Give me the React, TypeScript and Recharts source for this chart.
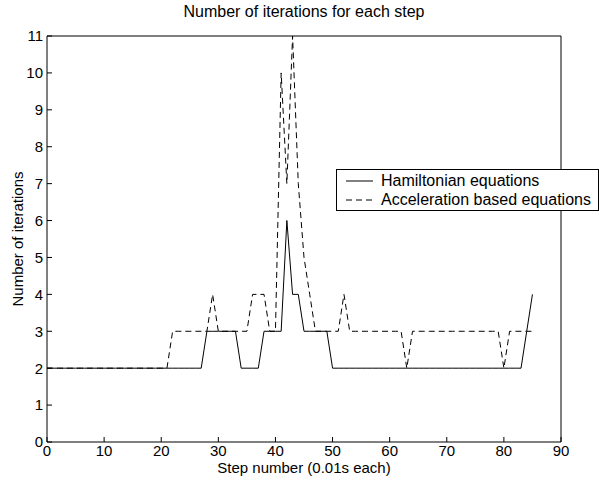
import React from 'react';
import { LineChart, Line, XAxis, YAxis, Legend, Label } from 'recharts';

const steps = [
  0, 1, 2, 3, 4, 5, 6, 7, 8, 9,
  10, 11, 12, 13, 14, 15, 16, 17, 18, 19,
  20, 21, 22, 23, 24, 25, 26, 27, 28, 29,
  30, 31, 32, 33, 34, 35, 36, 37, 38, 39,
  40, 41, 42, 43, 44, 45, 46, 47, 48, 49,
  50, 51, 52, 53, 54, 55, 56, 57, 58, 59,
  60, 61, 62, 63, 64, 65, 66, 67, 68, 69,
  70, 71, 72, 73, 74, 75, 76, 77, 78, 79,
  80, 81, 82, 83, 84, 85,
];

const hamiltonian = [
  2, 2, 2, 2, 2, 2, 2, 2, 2, 2,
  2, 2, 2, 2, 2, 2, 2, 2, 2, 2,
  2, 2, 2, 2, 2, 2, 2, 2, 3, 3,
  3, 3, 3, 3, 2, 2, 2, 2, 3, 3,
  3, 3, 6, 4, 4, 3, 3, 3, 3, 3,
  2, 2, 2, 2, 2, 2, 2, 2, 2, 2,
  2, 2, 2, 2, 2, 2, 2, 2, 2, 2,
  2, 2, 2, 2, 2, 2, 2, 2, 2, 2,
  2, 2, 2, 2, 3, 4,
];

const acceleration = [
  2, 2, 2, 2, 2, 2, 2, 2, 2, 2,
  2, 2, 2, 2, 2, 2, 2, 2, 2, 2,
  2, 2, 3, 3, 3, 3, 3, 3, 3, 4,
  3, 3, 3, 3, 3, 3, 4, 4, 4, 3,
  3, 10, 7, 11, 7, 5, 4, 3, 3, 3,
  3, 3, 4, 3, 3, 3, 3, 3, 3, 3,
  3, 3, 3, 2, 3, 3, 3, 3, 3, 3,
  3, 3, 3, 3, 3, 3, 3, 3, 3, 3,
  2, 3, 3, 3, 3, 3,
];

const xTicks = [0, 10, 20, 30, 40, 50, 60, 70, 80, 90];
const yTicks = [0, 1, 2, 3, 4, 5, 6, 7, 8, 9, 10, 11];

const seriesNames = ['Hamiltonian equations', 'Acceleration based equations'];
const chartTitle = 'Number of iterations for each step';

const data = steps.map((s, i) => ({
  step: s,
  ham: hamiltonian[i],
  acc: acceleration[i],
}));

const FONT = '"Liberation Sans", Arial, Helvetica, sans-serif';

const LegendBox = () => (
  <div
    style={{
      boxSizing: 'border-box',
      width: 263,
      height: 42,
      border: '1px solid #000',
      background: '#fff',
      fontFamily: FONT,
      fontSize: 16,
      color: '#000',
      paddingTop: 2,
    }}
  >
    {seriesNames.map((n, i) => (
      <div key={n} style={{ display: 'flex', alignItems: 'center', height: 18.5 }}>
        <svg width={44} height={18} style={{ display: 'block' }}>
          <line
            x1={9}
            x2={36}
            y1={9}
            y2={9}
            stroke="#000"
            strokeWidth={1}
            strokeDasharray={i === 1 ? '6 4' : undefined}
          />
        </svg>
        <span style={{ whiteSpace: 'nowrap', lineHeight: '18px' }}>{n}</span>
      </div>
    ))}
  </div>
);

export default function App() {
  const tickStyle = { fill: '#000', fontSize: 15, fontFamily: FONT };
  return (
    <div style={{ position: 'absolute', left: 0, top: 0, width: 599, height: 482, background: '#fff' }}>
      <div
        style={{
          position: 'absolute',
          left: 47,
          width: 514,
          top: 3,
          textAlign: 'center',
          fontFamily: FONT,
          fontSize: 16,
          lineHeight: '18px',
          color: '#000',
          zIndex: 2,
        }}
      >
        {chartTitle}
      </div>
      <LineChart
        width={599}
        height={482}
        data={data}
        margin={{ top: 35, right: 37, bottom: 0, left: 0 }}
      >
        <XAxis
          xAxisId="b"
          type="number"
          dataKey="step"
          domain={[0, 90]}
          ticks={xTicks}
          interval={0}
          height={40}
          tickSize={-5}
          tickMargin={8}
          tick={tickStyle}
          stroke="#000"
          axisLine={{ stroke: '#000' }}
          tickLine={{ stroke: '#000' }}
        >
          <Label
            value="Step number (0.01s each)"
            position="insideBottom"
            offset={9}
            style={{ fill: '#000', fontSize: 15, fontFamily: FONT }}
          />
        </XAxis>
        <XAxis
          xAxisId="t"
          orientation="top"
          type="number"
          dataKey="step"
          domain={[0, 90]}
          ticks={xTicks}
          interval={0}
          height={1}
          tickSize={-5}
          tick={false}
          stroke="#000"
          axisLine={{ stroke: '#000' }}
          tickLine={{ stroke: '#000' }}
        />
        <YAxis
          yAxisId="l"
          type="number"
          domain={[0, 11]}
          ticks={yTicks}
          interval={0}
          width={47}
          tickSize={-5}
          tickMargin={9}
          tick={tickStyle}
          stroke="#000"
          axisLine={{ stroke: '#000' }}
          tickLine={{ stroke: '#000' }}
        >
          <Label
            value="Number of iterations"
            position="center"
            angle={-90}
            dx={-5.5}
            style={{ fill: '#000', fontSize: 15, fontFamily: FONT, textAnchor: 'middle' }}
          />
        </YAxis>
        <YAxis
          yAxisId="r"
          orientation="right"
          type="number"
          domain={[0, 11]}
          ticks={yTicks}
          interval={0}
          width={1}
          tickSize={-5}
          tick={false}
          stroke="#000"
          axisLine={{ stroke: '#000' }}
          tickLine={{ stroke: '#000' }}
        />
        <Legend
          layout="horizontal"
          verticalAlign="middle"
          align="center"
          content={() => <LegendBox />}
          wrapperStyle={{ position: 'absolute', left: 336, top: 169, width: 263, height: 42 }}
        />
        <Line
          xAxisId="b"
          yAxisId="l"
          type="linear"
          dataKey="ham"
          name={seriesNames[0]}
          stroke="#000"
          strokeWidth={1}
          dot={false}
          activeDot={false}
          isAnimationActive={false}
        />
        <Line
          xAxisId="b"
          yAxisId="l"
          type="linear"
          dataKey="acc"
          name={seriesNames[1]}
          stroke="#000"
          strokeWidth={1}
          strokeDasharray="6 4"
          dot={false}
          activeDot={false}
          isAnimationActive={false}
        />
      </LineChart>
    </div>
  );
}
